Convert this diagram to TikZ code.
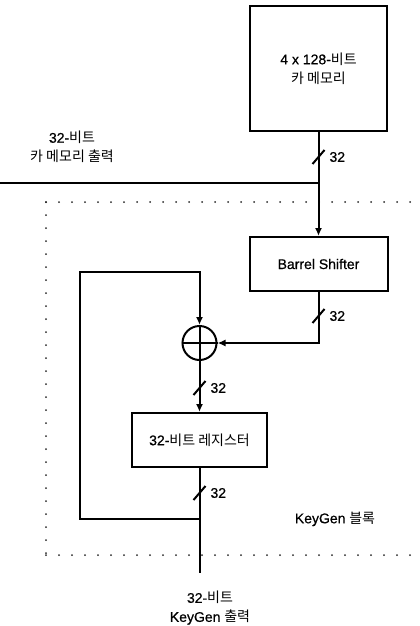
\documentclass[tikz,border=0pt]{standalone}
\usepackage{fontspec}
\setmainfont{Liberation Sans}[FakeBold=0.6]
\newfontfamily\kr{Noto Sans CJK KR}
\usetikzlibrary{arrows.meta,calc}
\begin{document}
\begin{tikzpicture}[x=1pt,y=-1pt,
  font=\fontsize{14}{19}\selectfont,
  line width=2pt,
  blk/.style={draw, rectangle, inner sep=0pt, align=center},
  xorop/.style={draw, circle, minimum size=34pt, inner sep=0pt},
  arr/.style={-{Latex[length=8pt,width=7pt]}},
  lbl/.style={align=center, inner sep=0pt},
  buslbl/.style={anchor=west, inner sep=0pt},
  dotline/.style={line width=2pt, line cap=round, dash pattern=on 0pt off 13pt, black!85}
]
\useasboundingbox (0,0) rectangle (420,626);

% dotted KeyGen block border
\coordinate (d1) at (420,202);
\coordinate (d2) at (46,202);
\coordinate (d3) at (46,555);
\coordinate (d4) at (420,555);
\draw[dotline] (d2) -- (d1);
\draw[dotline] (d2) -- (d3);
\draw[dotline] (d3) -- (d4);

% blocks
\node[blk, minimum width=137pt, minimum height=125pt] (mem) at (318.5,68.5)
  {4 x 128-{\kr 비트}\\{\kr 카 메모리}};
\node[blk, minimum width=138pt, minimum height=54pt] (bs) at (318.5,264) {Barrel Shifter};
\node[xorop] (x) at (199.5,343) {};
\draw (x.north) -- (x.south);
\draw (x.west) -- (x.east);
\node[blk, minimum width=135pt, minimum height=54pt] (reg) at (199.5,440) {32-{\kr 비트 레지스터}};

% labels
\node[lbl] (kl) at (72,147) {32-{\kr 비트}\\{\kr 카 메모리 출력}};
\node[lbl] (kg) at (335,519) {KeyGen {\kr 블록}};
\node[lbl] (ol) at (210,608) {32-{\kr 비트}\\KeyGen {\kr 출력}};

% junctions
\coordinate (kin) at (0,183);
\coordinate (j1) at (318.5,183);
\coordinate (j2) at (199.5,519);
\coordinate (fb1) at (80,519);
\coordinate (fb2) at (80,272);
\coordinate (out) at (199.5,573);

% connectors
\draw (kin) -- (j1);
\draw[arr] (mem.south) -- (bs.north);
\draw[arr] (bs.south) |- (x.east);
\draw[arr] (x.south) -- (reg.north);
\draw (reg.south) -- (out);
\draw[arr] (j2) -- (fb1) -- (fb2) -| (x.north);

% bus slashes
\foreach \px/\py [count=\i] in {318.5/157, 318.5/316, 199.5/388, 199.5/493}{
  \draw ($(\px,\py)+(-6,7)$) -- ($(\px,\py)+(6,-7)$);
  \node[buslbl] (bw\i) at ($(\px,\py)+(10,0)$) {32};
}
\end{tikzpicture}
\end{document}
